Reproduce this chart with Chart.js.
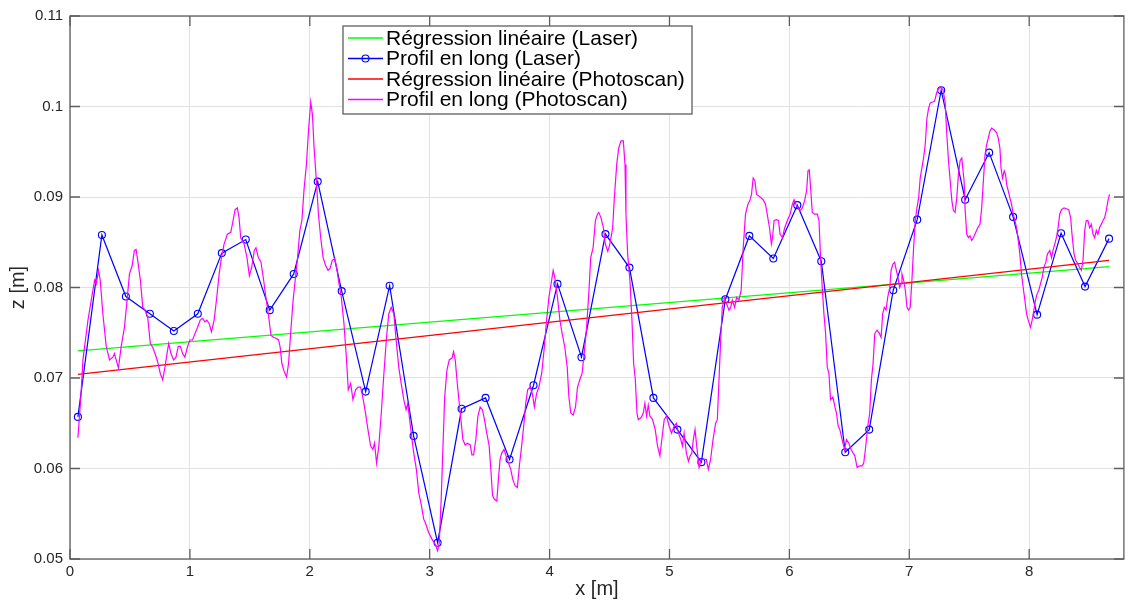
<!DOCTYPE html>
<html>
<head>
<meta charset="utf-8">
<title>Profil en long</title>
<script src="https://cdn.jsdelivr.net/npm/chart.js@4.4.0/dist/chart.umd.min.js"></script>
<style>
    body { margin: 0; background: #fff; }
    canvas { display: block; }
</style>
</head>
<body>
<canvas id="profileChart" width="1129" height="602"></canvas>
<script>
// Laser profile (one reading every ~0.2 m)
const laserX = [0.066, 0.266, 0.466, 0.666, 0.866, 1.066, 1.266, 1.466, 1.666, 1.866,
    2.066, 2.266, 2.466, 2.666, 2.866, 3.066, 3.266, 3.466, 3.666, 3.866,
    4.066, 4.266, 4.466, 4.666, 4.866, 5.066, 5.266, 5.466, 5.666, 5.866,
    6.066, 6.266, 6.466, 6.666, 6.866, 7.066, 7.266, 7.466, 7.666, 7.866,
    8.066, 8.266, 8.466, 8.666];
const laserZ = [0.0657, 0.0858, 0.0790, 0.0771, 0.0752, 0.0771, 0.0838, 0.0853, 0.0775, 0.0815,
    0.0917, 0.0796, 0.0685, 0.0802, 0.0636, 0.0518, 0.0666, 0.0678, 0.0610, 0.0692,
    0.0804, 0.0723, 0.0859, 0.0822, 0.0678, 0.0643, 0.0607, 0.0787, 0.0857, 0.0832,
    0.0891, 0.0829, 0.0618, 0.0643, 0.0797, 0.0875, 0.1018, 0.0897, 0.0949, 0.0878,
    0.0770, 0.0860, 0.0801, 0.0854];

// Linear regressions (end points)
const regX = [0.066, 8.666];
const regLaserZ = [0.0730, 0.0823];
const regPhotoZ = [0.0704, 0.0830];

// Photoscan profile, [x, z] pairs
const photoProfile = [
    [0.066,0.0634],[0.089,0.0676],[0.108,0.0720],[0.150,0.0764],[0.191,0.0797],[0.205,0.0808],[0.219,0.0804],[0.238,0.0819],
    [0.252,0.0808],[0.274,0.0771],[0.302,0.0735],[0.330,0.0720],[0.357,0.0723],[0.371,0.0727],[0.385,0.0720],[0.404,0.0711],
    [0.427,0.0735],[0.454,0.0756],[0.476,0.0786],[0.496,0.0815],[0.518,0.0824],[0.537,0.0841],[0.551,0.0842],[0.565,0.0830],
    [0.587,0.0808],[0.607,0.0778],[0.626,0.0775],[0.648,0.0767],[0.670,0.0738],[0.690,0.0734],[0.709,0.0727],[0.731,0.0718],
    [0.753,0.0705],[0.773,0.0698],[0.792,0.0712],[0.809,0.0727],[0.823,0.0738],[0.842,0.0727],[0.864,0.0720],[0.884,0.0723],
    [0.903,0.0735],[0.920,0.0735],[0.939,0.0727],[0.958,0.0723],[0.981,0.0735],[1.000,0.0742],[1.022,0.0742],[1.042,0.0749],
    [1.064,0.0756],[1.086,0.0764],[1.105,0.0766],[1.125,0.0762],[1.141,0.0764],[1.161,0.0760],[1.180,0.0751],[1.202,0.0764],
    [1.224,0.0789],[1.244,0.0815],[1.263,0.0833],[1.285,0.0848],[1.313,0.0859],[1.341,0.0861],[1.360,0.0874],[1.377,0.0886],
    [1.396,0.0888],[1.410,0.0877],[1.424,0.0855],[1.452,0.0848],
    [1.476,0.0833],[1.496,0.0813],[1.515,0.0822],[1.537,0.0841],[1.551,0.0844],[1.571,0.0833],[1.593,0.0828],[1.615,0.0808],
    [1.634,0.0789],[1.654,0.0771],[1.676,0.0747],[1.698,0.0745],[1.717,0.0744],[1.740,0.0742],[1.753,0.0734],[1.767,0.0716],
    [1.787,0.0707],[1.806,0.0701],[1.823,0.0716],[1.842,0.0753],[1.861,0.0786],[1.878,0.0808],[1.898,0.0833],[1.917,0.0863],
    [1.934,0.0874],[1.953,0.0910],[1.972,0.0936],[1.989,0.0973],[2.008,0.1005],[2.022,0.0991],[2.036,0.0954],[2.055,0.0918],
    [2.072,0.0881],[2.091,0.0855],[2.111,0.0833],[2.133,0.0824],[2.152,0.0819],[2.169,0.0821],[2.188,0.0830],[2.208,0.0832],
    [2.224,0.0822],[2.244,0.0804],[2.263,0.0789],[2.285,0.0760],[2.305,0.0723],[2.321,0.0687],[2.341,0.0694],[2.360,0.0676],
    [2.382,0.0687],[2.402,0.0690],[2.424,0.0690],[2.446,0.0676],[2.465,0.0661],[2.485,0.0643],[2.507,0.0625],[2.526,0.0621],
    [2.540,0.0628],[2.557,0.0606],[2.576,0.0625],[2.596,0.0661],[2.618,0.0705],[2.640,0.0745],[2.659,0.0771],[2.679,0.0778],
    [2.701,0.0771],[2.720,0.0742],[2.742,0.0712],[2.762,0.0694],[2.784,0.0676],[2.803,0.0665],[2.817,0.0672],[2.839,0.0647],
    [2.867,0.0617],[2.889,0.0599],[2.909,0.0573],[2.931,0.0559],[2.950,0.0544],
    [2.964,0.0540],[2.992,0.0529],[3.019,0.0522],[3.047,0.0516],[3.066,0.0509],[3.080,0.0518],[3.097,0.0570],[3.111,0.0625],
    [3.125,0.0679],[3.144,0.0709],[3.163,0.0720],[3.186,0.0722],[3.199,0.0729],[3.213,0.0720],[3.233,0.0690],[3.255,0.0661],
    [3.277,0.0632],[3.296,0.0626],[3.316,0.0628],[3.338,0.0626],[3.352,0.0615],[3.366,0.0615],[3.385,0.0632],[3.402,0.0658],
    [3.421,0.0668],[3.440,0.0665],[3.457,0.0654],[3.476,0.0639],[3.496,0.0625],[3.512,0.0595],[3.524,0.0570],[3.540,0.0566],
    [3.560,0.0564],[3.573,0.0588],[3.587,0.0610],[3.601,0.0617],[3.620,0.0621],[3.637,0.0614],[3.657,0.0606],[3.676,0.0599],
    [3.693,0.0588],[3.712,0.0581],[3.731,0.0579],[3.748,0.0603],[3.767,0.0625],[3.784,0.0647],[3.801,0.0672],[3.817,0.0687],
    [3.837,0.0690],[3.856,0.0683],[3.873,0.0668],[3.892,0.0683],[3.911,0.0690],[3.934,0.0705],[3.956,0.0734],[3.975,0.0764],
    [3.994,0.0789],[4.017,0.0808],[4.030,0.0819],[4.044,0.0811],[4.066,0.0789],[4.086,0.0764],[4.105,0.0749],[4.127,0.0734],
    [4.147,0.0712],[4.161,0.0679],[4.177,0.0661],[4.197,0.0659],[4.216,0.0668],[4.233,0.0690],[4.252,0.0698],[4.271,0.0705],
    [4.288,0.0727],[4.307,0.0753],[4.327,0.0793],[4.343,0.0833],[4.363,0.0844],[4.382,0.0874],[4.399,0.0881],
    [4.410,0.0883],[4.429,0.0877],[4.449,0.0866],[4.465,0.0848],[4.485,0.0840],[4.499,0.0846],[4.512,0.0855],[4.526,0.0866],
    [4.540,0.0899],[4.560,0.0936],[4.576,0.0954],[4.596,0.0962],[4.615,0.0962],[4.629,0.0936],[4.637,0.0881],[4.651,0.0837],
    [4.670,0.0808],[4.687,0.0764],[4.701,0.0716],[4.715,0.0698],[4.729,0.0661],[4.740,0.0654],[4.762,0.0656],[4.781,0.0661],
    [4.795,0.0672],[4.809,0.0658],[4.823,0.0670],[4.837,0.0658],[4.859,0.0654],[4.881,0.0643],[4.900,0.0625],[4.920,0.0614],
    [4.936,0.0632],[4.956,0.0654],[4.975,0.0658],[4.997,0.0647],[5.017,0.0639],[5.039,0.0647],[5.058,0.0650],[5.075,0.0639],
    [5.094,0.0632],[5.108,0.0625],[5.122,0.0639],[5.141,0.0617],[5.158,0.0608],[5.172,0.0614],[5.186,0.0617],[5.199,0.0632],
    [5.213,0.0643],[5.227,0.0625],[5.247,0.0601],[5.266,0.0610],[5.288,0.0610],[5.307,0.0610],[5.324,0.0599],[5.343,0.0610],
    [5.363,0.0632],[5.385,0.0650],[5.399,0.0654],[5.413,0.0698],[5.427,0.0742],[5.440,0.0778],[5.460,0.0789],[5.476,0.0782],
    [5.496,0.0775],[5.510,0.0778],[5.524,0.0786],[5.543,0.0778],[5.560,0.0789],[5.579,0.0786],[5.598,0.0797],[5.615,0.0844],
    [5.634,0.0881],[5.654,0.0892],[5.670,0.0896],[5.684,0.0903],[5.698,0.0921],[5.712,0.0918],[5.726,0.0903],[5.745,0.0901],
    [5.765,0.0899],[5.781,0.0897],[5.801,0.0892],[5.815,0.0881],[5.834,0.0866],[5.850,0.0848],
    [5.859,0.0855],[5.873,0.0874],[5.892,0.0875],[5.909,0.0874],[5.922,0.0859],[5.942,0.0855],[5.961,0.0866],[5.983,0.0874],
    [6.006,0.0881],[6.025,0.0892],[6.039,0.0897],[6.053,0.0892],[6.072,0.0888],[6.089,0.0885],[6.108,0.0888],[6.127,0.0896],
    [6.144,0.0907],[6.155,0.0929],[6.166,0.0930],[6.177,0.0910],[6.191,0.0883],[6.211,0.0881],[6.233,0.0881],[6.247,0.0874],
    [6.260,0.0833],[6.274,0.0800],[6.288,0.0771],[6.302,0.0749],[6.316,0.0712],[6.330,0.0705],[6.343,0.0676],[6.363,0.0679],
    [6.380,0.0668],[6.393,0.0661],[6.407,0.0647],[6.421,0.0643],[6.440,0.0632],[6.460,0.0621],[6.476,0.0632],[6.496,0.0628],
    [6.515,0.0621],[6.532,0.0617],[6.546,0.0614],[6.565,0.0601],[6.587,0.0603],[6.607,0.0603],[6.620,0.0606],[6.634,0.0621],
    [6.654,0.0647],[6.670,0.0661],[6.684,0.0698],[6.698,0.0716],[6.712,0.0749],[6.731,0.0753],[6.751,0.0749],[6.765,0.0745],
    [6.778,0.0771],[6.792,0.0778],[6.806,0.0775],[6.820,0.0789],[6.837,0.0800],[6.848,0.0819],[6.864,0.0826],[6.878,0.0828],
    [6.892,0.0819],[6.906,0.0811],[6.920,0.0800],[6.931,0.0804],[6.939,0.0815],[6.953,0.0808],[6.967,0.0797],[6.981,0.0778],
    [6.994,0.0775],[7.008,0.0778],[7.022,0.0808],[7.036,0.0844],[7.050,0.0874],[7.064,0.0888],[7.078,0.0899],[7.091,0.0921],
    [7.105,0.0932],[7.119,0.0943],[7.133,0.0958],[7.147,0.0987],[7.161,0.0998],[7.175,0.1004],[7.194,0.1005],[7.211,0.1006],
    [7.230,0.1016],[7.244,0.1020],[7.263,0.1021],[7.280,0.1019],[7.299,0.1005],
    [7.313,0.0969],[7.327,0.0940],[7.341,0.0918],[7.355,0.0896],[7.368,0.0885],[7.382,0.0883],[7.396,0.0899],[7.410,0.0925],
    [7.424,0.0940],[7.438,0.0943],[7.446,0.0932],[7.457,0.0918],[7.465,0.0888],[7.479,0.0859],[7.493,0.0855],[7.507,0.0857],
    [7.521,0.0852],[7.535,0.0855],[7.548,0.0859],[7.571,0.0866],[7.590,0.0870],[7.604,0.0888],[7.618,0.0918],[7.632,0.0947],
    [7.645,0.0958],[7.659,0.0965],[7.673,0.0973],[7.687,0.0976],[7.709,0.0974],[7.729,0.0971],[7.742,0.0965],[7.756,0.0954],
    [7.765,0.0932],[7.778,0.0921],[7.792,0.0929],[7.803,0.0925],[7.812,0.0914],[7.825,0.0907],[7.839,0.0899],[7.853,0.0892],
    [7.867,0.0881],[7.881,0.0874],[7.895,0.0866],[7.909,0.0852],[7.922,0.0837],[7.936,0.0815],[7.950,0.0800],[7.964,0.0786],
    [7.978,0.0771],[7.992,0.0764],[8.011,0.0756],[8.025,0.0764],[8.039,0.0775],[8.053,0.0786],[8.066,0.0793],[8.080,0.0797],
    [8.094,0.0804],[8.108,0.0811],[8.122,0.0822],[8.139,0.0828],[8.152,0.0837],[8.172,0.0841],[8.186,0.0833],[8.199,0.0841],
    [8.213,0.0848],[8.227,0.0855],[8.241,0.0866],[8.255,0.0881],[8.269,0.0886],[8.291,0.0888],[8.310,0.0887],[8.330,0.0886],
    [8.346,0.0877],[8.357,0.0859],[8.374,0.0837],[8.388,0.0830],[8.407,0.0826],[8.421,0.0822],[8.435,0.0819],[8.449,0.0830],
    [8.463,0.0863],[8.476,0.0874],[8.490,0.0874],[8.504,0.0866],[8.518,0.0870],[8.532,0.0859],[8.546,0.0855],[8.560,0.0863],
    [8.573,0.0859],[8.587,0.0866],[8.601,0.0870],[8.615,0.0874],[8.629,0.0877],[8.643,0.0885],[8.657,0.0896],[8.670,0.0903]
];

// Axis limits
const xMin = 0, xMax = 8.79, xStep = 1;
const zMin = 0.05, zMax = 0.11, zStep = 0.01;

// Series colours, in legend order
const seriesColors = ['#00ff00', '#0000ff', '#ff0000', '#ff00ff'];

const textColor = '#262626';
const gridColor = '#e2e2e2';
const frameColor = '#5e5e5e';
const fontFamily = '"Liberation Sans", Arial, Helvetica, sans-serif';

function toPoints(xs, ys) {
    return xs.map((x, i) => ({ x: x, y: ys[i] }));
}

// MATLAB-like box with inward tick marks
const framePlugin = {
    id: 'frame',
    afterDatasetsDraw(chart) {
        const { ctx, chartArea: a, scales: { x, y } } = chart;
        ctx.save();
        ctx.strokeStyle = frameColor;
        ctx.lineWidth = 1.3;
        ctx.strokeRect(a.left, a.top, a.right - a.left, a.bottom - a.top);
        ctx.beginPath();
        x.ticks.forEach(t => {
            const px = x.getPixelForValue(t.value);
            ctx.moveTo(px, a.bottom); ctx.lineTo(px, a.bottom - 10);
            ctx.moveTo(px, a.top); ctx.lineTo(px, a.top + 10);
        });
        y.ticks.forEach(t => {
            const py = y.getPixelForValue(t.value);
            ctx.moveTo(a.left, py); ctx.lineTo(a.left + 10, py);
            ctx.moveTo(a.right, py); ctx.lineTo(a.right - 10, py);
        });
        ctx.stroke();
        ctx.restore();
    }
};

// Boxed legend inside the plot
const legendPlugin = {
    id: 'boxLegend',
    afterDraw(chart) {
        const ctx = chart.ctx;
        const left = 343, top = 26, width = 349, height = 88, row = 20.5;
        ctx.save();
        ctx.fillStyle = '#ffffff';
        ctx.fillRect(left, top, width, height);
        ctx.strokeStyle = frameColor;
        ctx.lineWidth = 1.3;
        ctx.strokeRect(left, top, width, height);
        ctx.font = '21px ' + fontFamily;
        ctx.textBaseline = 'middle';
        chart.data.datasets.forEach((ds, i) => {
            const yy = top + 12 + i * row;
            ctx.strokeStyle = seriesColors[i];
            ctx.lineWidth = 1.4;
            ctx.beginPath();
            ctx.moveTo(left + 5, yy);
            ctx.lineTo(left + 40, yy);
            ctx.stroke();
            if (ds.pointRadius > 0) {
                ctx.lineWidth = 1.1;
                ctx.beginPath();
                ctx.arc(left + 22.5, yy, ds.pointRadius, 0, Math.PI * 2);
                ctx.stroke();
            }
            ctx.fillStyle = '#000000';
            ctx.fillText(ds.label, left + 43, yy + 1);
        });
        ctx.restore();
    }
};

document.addEventListener('DOMContentLoaded', function() {
    const ctx = document.getElementById('profileChart').getContext('2d');
    new Chart(ctx, {
        type: 'scatter',
        data: {
            datasets: [{
                label: 'Régression linéaire (Laser)',
                data: toPoints(regX, regLaserZ),
                showLine: true,
                borderColor: seriesColors[0],
                borderWidth: 1.2,
                pointRadius: 0,
                order: 4
            }, {
                label: 'Profil en long (Laser)',
                data: toPoints(laserX, laserZ),
                showLine: true,
                borderColor: seriesColors[1],
                borderWidth: 1.2,
                pointRadius: 3.5,
                pointBorderWidth: 1.1,
                pointBorderColor: seriesColors[1],
                pointBackgroundColor: 'rgba(0,0,0,0)',
                order: 3
            }, {
                label: 'Régression linéaire (Photoscan)',
                data: toPoints(regX, regPhotoZ),
                showLine: true,
                borderColor: seriesColors[2],
                borderWidth: 1.2,
                pointRadius: 0,
                order: 2
            }, {
                label: 'Profil en long (Photoscan)',
                data: photoProfile.map(p => ({ x: p[0], y: p[1] })),
                showLine: true,
                borderColor: seriesColors[3],
                borderWidth: 1.2,
                pointRadius: 0,
                order: 1
            }]
        },
        options: {
            responsive: false,
            animation: false,
            devicePixelRatio: 1,
            layout: { padding: { top: 14, right: 1, left: 0, bottom: 0 } },
            plugins: {
                legend: { display: false },
                tooltip: { enabled: false }
            },
            scales: {
                x: {
                    type: 'linear',
                    min: xMin,
                    max: xMax,
                    afterFit: s => { s.height = 43; },
                    ticks: {
                        stepSize: xStep,
                        includeBounds: false,
                        padding: 4,
                        color: textColor,
                        font: { family: fontFamily, size: 15 }
                    },
                    grid: { color: gridColor, drawTicks: false },
                    border: { display: false },
                    title: {
                        display: true,
                        text: 'x [m]',
                        color: textColor,
                        font: { family: fontFamily, size: 20 },
                        padding: { top: 0, bottom: 1 }
                    }
                },
                y: {
                    type: 'linear',
                    min: zMin,
                    max: zMax,
                    afterFit: s => { s.width = 70; },
                    ticks: {
                        stepSize: zStep,
                        padding: 7,
                        color: textColor,
                        font: { family: fontFamily, size: 15 },
                        callback: v => String(+v.toFixed(2))
                    },
                    grid: { color: gridColor, drawTicks: false },
                    border: { display: false },
                    title: {
                        display: true,
                        text: 'z [m]',
                        color: textColor,
                        font: { family: fontFamily, size: 20 },
                        padding: { top: 6, bottom: 0 }
                    }
                }
            }
        },
        plugins: [framePlugin, legendPlugin]
    });
});
</script>
</body>
</html>
